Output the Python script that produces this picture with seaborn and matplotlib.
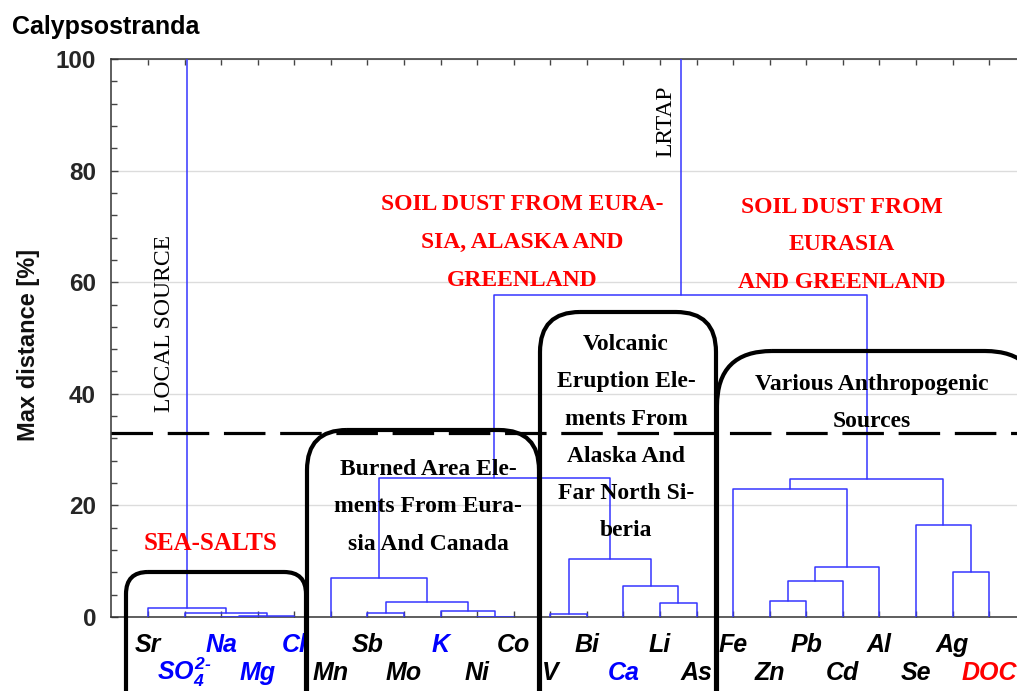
import matplotlib
matplotlib.use("Agg")
import matplotlib.pyplot as plt
import matplotlib.transforms as mtransforms
from matplotlib.patches import FancyBboxPatch
from matplotlib.ticker import MultipleLocator
import numpy as np
import pandas as pd
import seaborn as sns

# ---------------------------------------------------------------- data
# leaves in dendrogram order
leaf_labels = ["Sr", r"$SO_4^{2\text{-}}$", "Na", "Mg", "Cl", "Mn", "Sb", "Mo", "K", "Ni", "Co",
               "V", "Bi", "Ca", "Li", "As", "Fe", "Zn", "Pb", "Cd", "Al", "Se", "Ag", "DOC"]
leaf_colors = ["black", "blue", "blue", "blue", "blue", "black", "black", "black", "blue",
               "black", "black", "black", "black", "blue", "black", "black", "black", "black",
               "black", "black", "black", "black", "black", "red"]

# agglomeration steps: children are leaf indices, or n_leaves + step for earlier clusters
merge_left = [2, 24, 1, 0, 9, 8, 6, 30, 5, 11, 14, 13, 33, 32, 17, 38, 39, 16, 22, 21, 41, 37, 27]
merge_right = [3, 4, 25, 26, 10, 28, 7, 29, 31, 12, 15, 34, 35, 36, 18, 19, 20, 40, 23, 42, 43, 44, 45]
merge_height = [0.05, 0.23, 0.77, 1.56, 0.05, 1.10, 0.77, 2.68, 6.93, 0.48, 2.45, 5.56, 10.34,
                24.97, 2.87, 6.5, 8.9, 22.9, 8.0, 16.5, 24.7, 57.7, 130.0]

cut_level = 33.0
y_ticks = [0, 20, 40, 60, 80, 100]

# ---------------------------------------------------------------- style
sns.set_style("ticks")
plt.rcParams["font.family"] = ["Liberation Sans", "DejaVu Sans"]
plt.rcParams["mathtext.fontset"] = "custom"
plt.rcParams["mathtext.it"] = "Liberation Sans:bold:italic"
plt.rcParams["mathtext.rm"] = "Liberation Sans:bold:italic"
plt.rcParams["mathtext.bf"] = "Liberation Sans:bold:italic"

W, H = 1017, 691
fig = plt.figure(figsize=(W / 100, H / 100), dpi=100)
# helper transform: pixel coordinates measured from the top-left corner
px = mtransforms.Affine2D().scale(1 / 100, -1 / 100).translate(0, H / 100) + fig.dpi_scale_trans

x0, x1, y_top, y_bot = 111.4, 1025.7, 59, 617
ax = fig.add_axes([x0 / W, (H - y_bot) / H, (x1 - x0) / W, (y_bot - y_top) / H])

# ---------------------------------------------------------------- dendrogram links
n = len(leaf_labels)
node_x = list(np.arange(1, n + 1, dtype=float))
node_h = [0.0] * n
rows = []
for k, (a, b, h) in enumerate(zip(merge_left, merge_right, merge_height)):
    xa, xb = node_x[a], node_x[b]
    for pxx, pyy in [(xa, node_h[a]), (xa, h), (xb, h), (xb, node_h[b])]:
        rows.append({"link": k, "x": pxx, "y": pyy})
    node_x.append((xa + xb) / 2)
    node_h.append(h)
seg = pd.DataFrame(rows)

sns.lineplot(data=seg, x="x", y="y", units="link", estimator=None, sort=False,
             color="#3535ff", lw=1.1, ax=ax, legend=False, zorder=3)

ax.axhline(cut_level, color="black", lw=2.3, ls=(0, (13, 4.6)), zorder=4)

ax.set_xlim(0, n + 1)
ax.set_ylim(0, 100)
ax.set_xlabel("")
ax.set_ylabel("Max distance [%]", fontsize=17, fontweight="bold", color="#111111")
ax.yaxis.set_label_coords(-0.078, 0.487)

ax.set_xticks(np.arange(1, n + 1))
ax.set_xticklabels([])
ax.set_yticks(y_ticks)
ax.set_yticklabels([str(t) for t in y_ticks], fontsize=17.5, fontweight="bold")
ax.yaxis.set_minor_locator(MultipleLocator(4))
ax.tick_params(axis="x", which="both", direction="in", top=True, bottom=True,
               length=4, width=1, color="#444444")
ax.tick_params(axis="y", which="major", direction="in", left=True, right=False,
               length=5, width=1, pad=11, color="#444444")
ax.tick_params(axis="y", which="minor", direction="in", left=True, right=False,
               length=4, width=1, color="#444444")
ax.yaxis.grid(True, which="major", color="#dcdcdc", lw=1)
ax.set_axisbelow(True)
for side in ax.spines.values():
    side.set_color("#333333")
    side.set_linewidth(1.1)

# element names in two staggered rows below the axis
xt = ax.get_xaxis_transform()
for i, (lab, col) in enumerate(zip(leaf_labels, leaf_colors)):
    ybase = -0.0622 if i % 2 == 0 else -0.113
    ax.text(i + 1, ybase, lab, transform=xt, ha="center", va="baseline",
            fontsize=18, fontweight="bold", fontstyle="italic", color=col, clip_on=False)

# ---------------------------------------------------------------- group frames
frames = [  # left, top, right, corner radius (pixels)
    (126, 572, 306, 22),
    (307, 430, 539, 40),
    (540, 312, 716, 40),
    (717, 351, 1040, 55),
]
for left, top, right, rad in frames:
    fig.add_artist(FancyBboxPatch((left, top), right - left, 760 - top,
                                  boxstyle=f"round,pad=0,rounding_size={rad}",
                                  transform=px, fill=False, ec="black", lw=3.0,
                                  zorder=5, clip_on=False))

serif = ["Liberation Serif", "DejaVu Serif"]


def block(lines, cx, base0, step, color="black", size=17):
    for j, line in enumerate(lines):
        fig.text(cx, base0 + j * step, line, transform=px, ha="center", va="baseline",
                 fontsize=size, fontweight="bold", family=serif, color=color, zorder=6)


block(["SEA-SALTS"], 211, 550, 0, color="red", size=18)
block(["Burned Area Ele-", "ments From Eura-", "sia And Canada"], 428, 475, 37.5)
block(["Volcanic", "Eruption Ele-", "ments From", "Alaska And", "Far North Si-", "beria"],
      626, 350, 37.3)
block(["Various Anthropogenic", "Sources"], 872, 390, 36.7)
block(["SOIL DUST FROM EURA-", "SIA, ALASKA AND", "GREENLAND"], 522, 210, 38, color="red")
block(["SOIL DUST FROM", "EURASIA", "AND GREENLAND"], 842, 213, 37.5, color="red")

fig.text(165, 324, "LOCAL SOURCE", transform=px, rotation=90, ha="center", va="center",
         fontsize=17, family=serif, color="black", zorder=6)
fig.text(666, 121, "LRTAP", transform=px, rotation=90, ha="center", va="center",
         fontsize=17, family=serif, color="black", zorder=6)

fig.text(12, 34, "Calypsostranda", transform=px, ha="left", va="baseline",
         fontsize=18, fontweight="bold", color="black")

fig.savefig("out.png", dpi=100)
